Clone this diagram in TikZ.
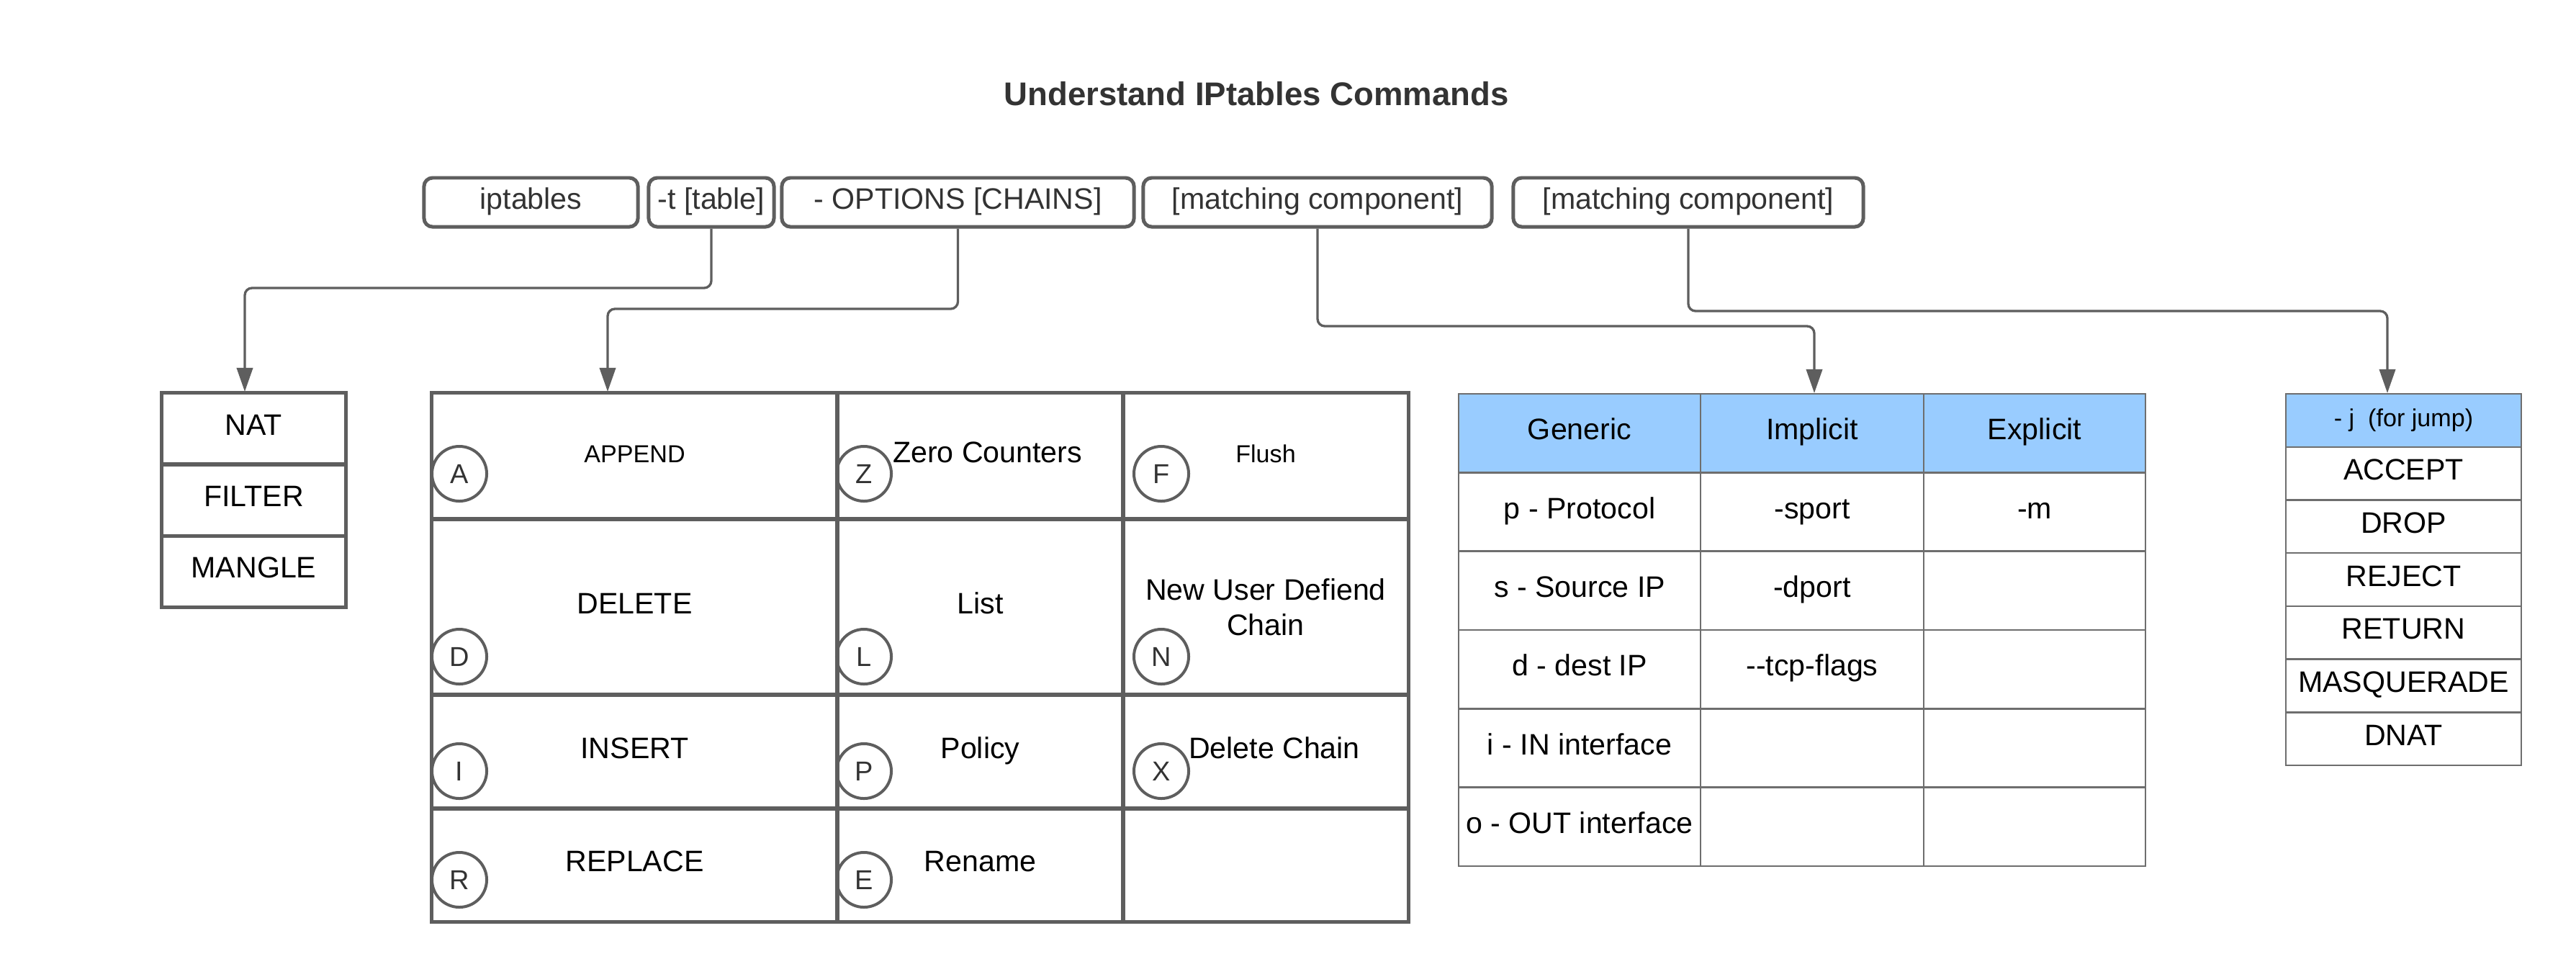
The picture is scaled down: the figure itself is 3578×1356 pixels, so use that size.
\documentclass[tikz,border=0pt]{standalone}
\usepackage{fontspec}
\setmainfont{Liberation Sans}
\usetikzlibrary{arrows.meta}

\definecolor{linegray}{HTML}{5E5E5E}
\definecolor{textgray}{HTML}{333333}
\definecolor{thingray}{HTML}{6E6E6E}
\definecolor{headblue}{HTML}{99CCFF}

\newcommand{\normtext}{\fontsize{11.7}{14}\selectfont}
\newcommand{\smalltext}{\fontsize{9.7}{11.6}\selectfont}
\newcommand{\lettertext}{\fontsize{10.8}{13}\selectfont}

\tikzset{
  capfix/.style={text height=0.716em, text depth=0.2em},
  topbox/.style={draw=linegray, line width=1.42pt, rounded corners=3.4pt,
    minimum height=0.68cm, inner xsep=2pt, text=textgray, font=\normtext, capfix},
  natcell/.style={draw=linegray, line width=1.42pt, minimum width=2.55cm,
    minimum height=0.99cm, font=\normtext, capfix},
  optbox/.style={draw=linegray, line width=1.42pt, font=\normtext, inner xsep=2pt},
  optcell/.style={optbox, capfix},
  letter/.style={circle, draw=linegray, line width=1.14pt, minimum size=0.76cm,
    inner sep=0pt, text=textgray, font=\lettertext},
  mcell/.style={draw=thingray, line width=0.71pt, minimum height=1.0933cm,
    inner xsep=2pt, font=\normtext, capfix},
  mhead/.style={mcell, fill=headblue},
  jcell/.style={draw=thingray, line width=0.71pt, minimum width=3.27cm,
    minimum height=0.737cm, inner xsep=2pt, font=\normtext, capfix},
  jhead/.style={jcell, fill=headblue, font=\smalltext},
  conn/.style={draw=linegray, line width=0.95pt, rounded corners=2.85pt,
    -{Triangle[length=9.4pt, width=6.3pt]}}
}

\begin{document}
\begin{tikzpicture}[x=0.01cm, y=-0.01cm]
\useasboundingbox (0,0) rectangle (3578,1356);

\node[font=\bfseries\fontsize{12.95}{15.5}\selectfont, text=textgray] (title) at (1745,130) {Understand IPtables Commands};

\node[topbox, minimum width=2.97cm] (ipt) at (737.5,281) {iptables};
\node[topbox, minimum width=1.74cm] (tbl) at (988,281) {-t [table]};
\node[topbox, minimum width=4.89cm] (opt) at (1330.5,281) {- OPTIONS [CHAINS]};
\node[topbox, minimum width=4.84cm] (mca) at (1830,281) {[matching component]};
\node[topbox, minimum width=4.86cm] (mcb) at (2345,281) {[matching component]};

\node[natcell] (nat) at (352.5,595.5) {NAT};
\node[natcell] (filter) at (352.5,694.5) {FILTER};
\node[natcell] (mangle) at (352.5,793.5) {MANGLE};

\node[optcell, minimum width=5.63cm, minimum height=1.75cm, font=\smalltext] (append) at (881.5,633.5) {APPEND};
\node[optcell, minimum width=5.63cm, minimum height=2.44cm] (delete) at (881.5,843) {DELETE};
\node[optcell, minimum width=5.63cm, minimum height=1.58cm] (insert) at (881.5,1044) {INSERT};
\node[optcell, minimum width=5.63cm, minimum height=1.57cm] (replace) at (881.5,1201.5) {REPLACE};
\node[optcell, minimum width=3.97cm, minimum height=1.75cm] (zero) at (1361.5,633.5) {\hspace*{0.2cm}Zero Counters};
\node[optcell, minimum width=3.97cm, minimum height=2.44cm] (list) at (1361.5,843) {List};
\node[optcell, minimum width=3.97cm, minimum height=1.58cm] (policy) at (1361.5,1044) {Policy};
\node[optcell, minimum width=3.97cm, minimum height=1.57cm] (rename) at (1361.5,1201.5) {Rename};
\node[optcell, minimum width=3.96cm, minimum height=1.75cm, font=\smalltext] (flush) at (1758,633.5) {Flush};
\node[optbox, minimum width=3.96cm, minimum height=2.44cm, align=center] (newchain) at (1758,843) {New User Defiend\\Chain};
\node[optcell, minimum width=3.96cm, minimum height=1.58cm] (delchain) at (1758,1044) {\hspace*{0.24cm}Delete Chain};
\node[optcell, minimum width=3.96cm, minimum height=1.57cm] (blank) at (1758,1201.5) {};

\node[letter] (ca) at (638,658) {A};
\node[letter] (cd) at (638,912) {D};
\node[letter] (ci) at (638,1071) {I};
\node[letter] (cr) at (638,1222) {R};
\node[letter] (cz) at (1200,658) {Z};
\node[letter] (cl) at (1200,912) {L};
\node[letter] (cp) at (1200,1071) {P};
\node[letter] (ce) at (1200,1222) {E};
\node[letter] (cf) at (1613,658) {F};
\node[letter] (cn) at (1613,912) {N};
\node[letter] (cx) at (1613,1071) {X};

\node[mhead, minimum width=3.36cm] (generic) at (2194,601.7) {Generic};
\node[mhead, minimum width=3.10cm] (implicit) at (2517,601.7) {Implicit};
\node[mhead, minimum width=3.08cm] (explicit) at (2826,601.7) {Explicit};
\node[mcell, minimum width=3.36cm] (proto) at (2194,711) {p - Protocol};
\node[mcell, minimum width=3.10cm] (sport) at (2517,711) {-sport};
\node[mcell, minimum width=3.08cm] (mopt) at (2826,711) {-m};
\node[mcell, minimum width=3.36cm] (srcip) at (2194,820.3) {s - Source IP};
\node[mcell, minimum width=3.10cm] (dport) at (2517,820.3) {-dport};
\node[mcell, minimum width=3.08cm] (ex2) at (2826,820.3) {};
\node[mcell, minimum width=3.36cm] (dstip) at (2194,929.7) {d - dest IP};
\node[mcell, minimum width=3.10cm] (flags) at (2517,929.7) {{-}{-}tcp-flags};
\node[mcell, minimum width=3.08cm] (ex3) at (2826,929.7) {};
\node[mcell, minimum width=3.36cm] (inif) at (2194,1039) {i - IN interface};
\node[mcell, minimum width=3.10cm] (im4) at (2517,1039) {};
\node[mcell, minimum width=3.08cm] (ex4) at (2826,1039) {};
\node[mcell, minimum width=3.36cm] (outif) at (2194,1148.3) {o - OUT interface};
\node[mcell, minimum width=3.10cm] (im5) at (2517,1148.3) {};
\node[mcell, minimum width=3.08cm] (ex5) at (2826,1148.3) {};

\node[jhead] (jump) at (3338.5,583.9) {- j\ \ (for jump)};
\node[jcell] (accept) at (3338.5,657.6) {ACCEPT};
\node[jcell] (drop) at (3338.5,731.3) {DROP};
\node[jcell] (reject) at (3338.5,805) {REJECT};
\node[jcell] (return) at (3338.5,878.7) {RETURN};
\node[jcell] (masq) at (3338.5,952.4) {MASQUERADE};
\node[jcell] (dnat) at (3338.5,1026.1) {DNAT};

\coordinate (natin) at (340,544);
\coordinate (optin) at (844,544);
\coordinate (genin) at (2520,546);
\coordinate (jmpin) at (3316,546);

\draw[conn] (tbl.south) -- (tbl.south |- 0,400) -| (natin);
\draw[conn] (opt.south) -- (opt.south |- 0,429) -| (optin);
\draw[conn] (mca.south) -- (mca.south |- 0,453) -| (genin);
\draw[conn] (mcb.south) -- (mcb.south |- 0,432) -| (jmpin);
\end{tikzpicture}
\end{document}
